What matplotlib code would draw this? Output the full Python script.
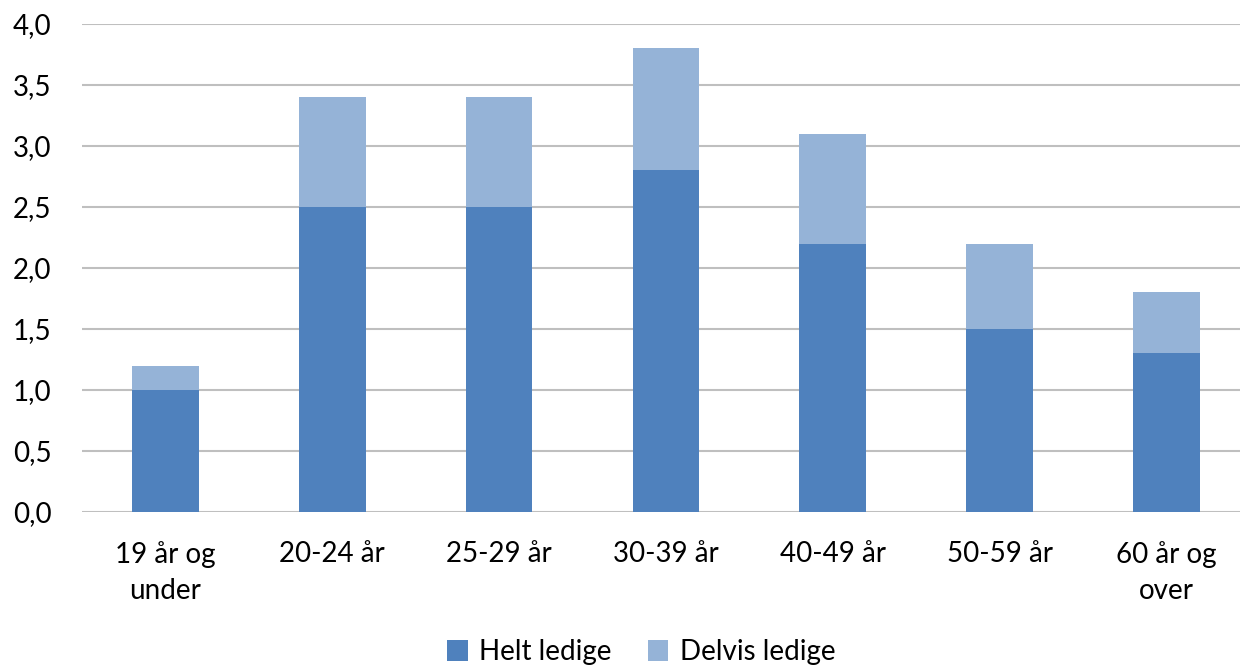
import matplotlib.pyplot as plt
import numpy as np

# Data
categories = ['19 år og\nunder', '20-24 år', '25-29 år', '30-39 år',
              '40-49 år', '50-59 år', '60 år og\nover']
helt_ledige = [1.0, 2.5, 2.5, 2.8, 2.2, 1.5, 1.3]
delvis_ledige = [0.2, 0.9, 0.9, 1.0, 0.9, 0.7, 0.5]
yticks = [0.0, 0.5, 1.0, 1.5, 2.0, 2.5, 3.0, 3.5, 4.0]

plt.rcParams['font.family'] = ['Lato', 'DejaVu Sans']

fig = plt.figure(figsize=(12.4, 6.67), dpi=100)
ax = fig.add_axes([0.066, 0.2324, 0.934, 0.7316])

x = np.arange(len(categories))
ax.bar(x, helt_ledige, width=0.4, color='#4F81BD', label='Helt ledige', zorder=3)
ax.bar(x, delvis_ledige, width=0.4, bottom=helt_ledige, color='#95B3D7',
       label='Delvis ledige', zorder=3)

ax.set_xlim(-0.5, 6.44)
ax.set_ylim(0, 4.0)
ax.set_yticks(yticks)
ax.set_yticklabels([f'{v:.1f}'.replace('.', ',') for v in yticks])
ax.set_xticks(x)
ax.set_xticklabels(categories, linespacing=1.45)
ax.tick_params(axis='both', length=0, labelsize=20, labelcolor='black')
ax.tick_params(axis='x', pad=21)
ax.tick_params(axis='y', pad=22)

ax.grid(axis='y', color='#BFBFBF', linewidth=1.5, zorder=0)
for s in ax.spines.values():
    s.set_visible(False)

fig.legend(loc='center', bbox_to_anchor=(0.517, 0.022), ncol=2, frameon=False,
           fontsize=20, handlelength=0.75, handleheight=0.75, handletextpad=0.4,
           columnspacing=1.3)

fig.savefig('out.png', dpi=100)
